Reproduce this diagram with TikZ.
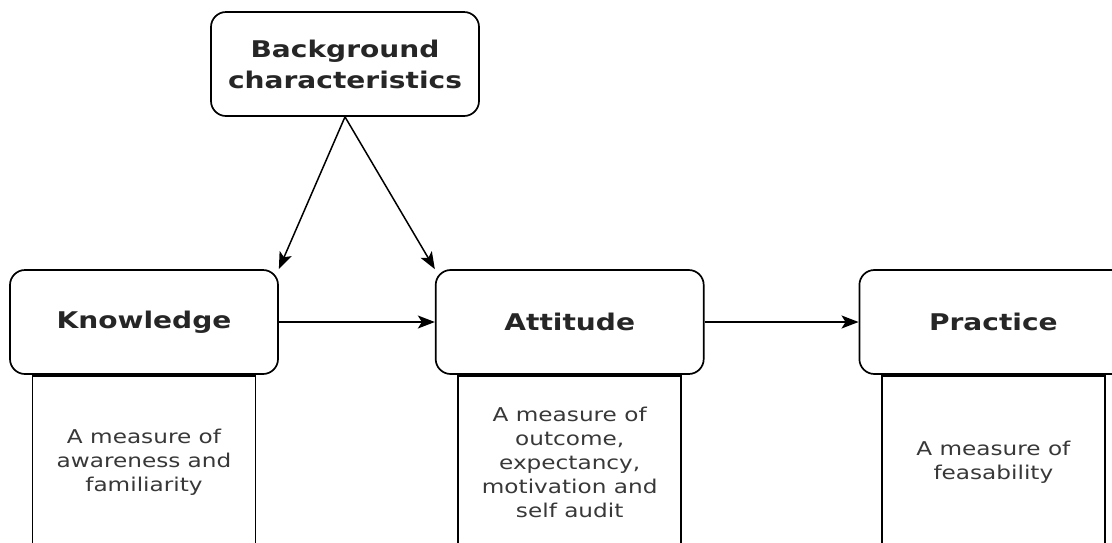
\documentclass[tikz,border=0pt]{standalone}
\usepackage{fontspec}
\setmainfont{DejaVu Sans}[FakeStretch=1.22]
\usepackage{xcolor}
\usetikzlibrary{positioning, arrows.meta}
\tikzset{
    stagenode/.style={
        rectangle,
        rounded corners=15pt,
        draw,
        line width=1.7pt,
        fill=white,
        minimum width=268pt,
        minimum height=104pt,
        align=center,
        font=\fontsize{23}{31}\selectfont\bfseries,
        text=black!85
    },
    descnode/.style={
        rectangle,
        draw,
        line width=1.7pt,
        minimum width=223pt,
        minimum height=174pt,
        align=center,
        font=\fontsize{19}{24}\selectfont,
        text=black!78
    },
    ptr/.style={
        -{Stealth[length=17pt, width=13pt, inset=4pt]},
        line width=1.5pt
    }
}

\begin{document}
\begin{tikzpicture}[x=1pt, y=-1pt]
                \useasboundingbox (0,0) rectangle (1112,542);
                \clip (0,0) rectangle (1112,542);

                \node[stagenode] (Know) at (144,322) {Knowledge};
                \node[stagenode, right=156pt of Know] (Att) {Attitude};
                \node[stagenode, right=154pt of Att] (Prac) {Practice};
                \node[stagenode] (Back) at (345,64) {Background\\characteristics};

                % Measures
                \node[descnode, below=0pt of Know] (KnowDesc) {A measure of\\awareness and\\familiarity};
                \node[descnode, below=0pt of Att] (AttDesc) {A measure of\\outcome,\\expectancy,\\motivation and\\self audit};
                \node[descnode, below=0pt of Prac] (PracDesc) {A measure of\\feasability};

                \draw[ptr] (Back.south) -- (Know.north east);
                \draw[ptr] (Back.south) -- (Att.north west);
                \draw[ptr] (Know) -- (Att);
                \draw[ptr] (Att) -- (Prac);
            \end{tikzpicture}
\end{document}
